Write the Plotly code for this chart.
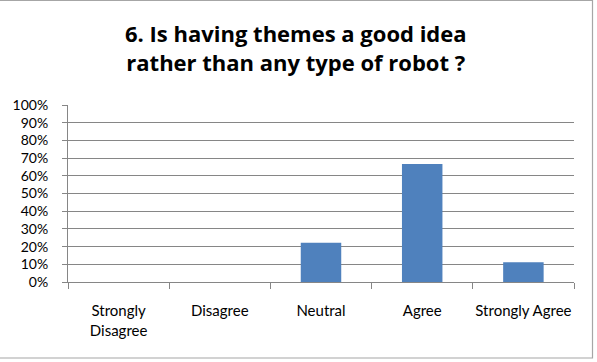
import plotly.graph_objects as go

# Survey responses (share of respondents)
categories = ["Strongly<br>Disagree", "Disagree", "Neutral", "Agree", "Strongly Agree"]
shares = [0.0, 0.0, 0.2222, 0.6667, 0.1111]
y_ticks = [i / 10 for i in range(11)]
y_tick_labels = [f"{i * 10}%" for i in range(11)]

title_text = "6. Is having themes a good idea<br>rather than any type of robot ?"

W, H = 597, 362
L, R, T, B = 68, 23, 105, 80
pw, ph = W - L - R, H - T - B

fig = go.Figure(
    go.Bar(
        x=categories,
        y=shares,
        marker=dict(color="#4F81BD", line=dict(width=0)),
        width=0.4,
        hoverinfo="skip",
    )
)

# helpers: pixel position -> paper units of the plot area
def px_x(v):
    return (v - L) / pw

def px_y(v):
    return (H - B - v) / ph

# chart-area frame
fig.add_shape(
    type="rect", xref="paper", yref="paper",
    x0=px_x(-2), x1=px_x(592.5), y0=px_y(358), y1=px_y(0.5),
    line=dict(color="#A6A6A6", width=1.2), fillcolor="rgba(0,0,0,0)", layer="below",
)

# bold two-line heading
fig.add_annotation(
    text=title_text, xref="paper", yref="paper",
    x=px_x(296), y=px_y(48), xanchor="center", yanchor="middle",
    showarrow=False, align="center",
    font=dict(family="'Open Sans', Lato, sans-serif", size=22, color="#000000", weight="bold"),
)

fig.update_layout(
    width=W, height=H,
    margin=dict(l=L, r=R, t=T, b=B, pad=0, autoexpand=False),
    paper_bgcolor="white",
    plot_bgcolor="white",
    showlegend=False,
    font=dict(family="Lato, 'Open Sans', sans-serif", color="#000000", size=14),
    bargap=0.6,
)

fig.update_xaxes(
    type="category",
    showgrid=False,
    showline=True, linecolor="#868686", linewidth=1,
    ticks="outside", tickson="boundaries", ticklen=6, tickcolor="#868686",
    tickfont=dict(size=15),
    tickangle=0,
    automargin=False,
    ticklabelstandoff=15,
    fixedrange=True,
)

fig.update_yaxes(
    range=[0, 1],
    tickvals=y_ticks,
    ticktext=y_tick_labels,
    showgrid=True, gridcolor="#868686", gridwidth=1,
    showline=True, linecolor="#868686", linewidth=1,
    ticks="outside", ticklen=5, tickcolor="#868686",
    tickfont=dict(size=14),
    automargin=False,
    ticklabelstandoff=11,
    zeroline=False,
    fixedrange=True,
)

fig.write_html("out.html", config={"displayModeBar": False})
